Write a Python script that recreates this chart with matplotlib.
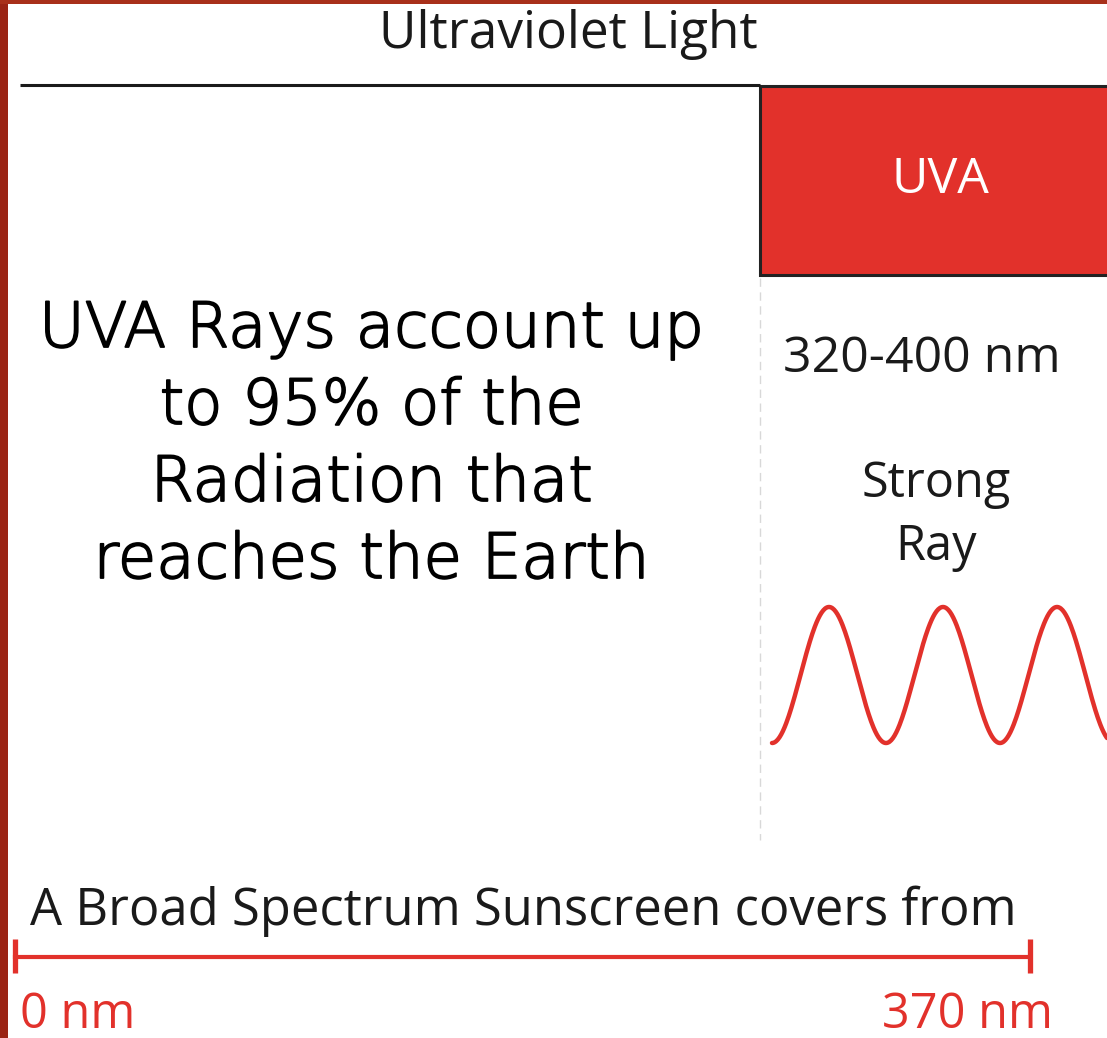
import numpy as np
import matplotlib.pyplot as plt
import matplotlib.patheffects as pe
from matplotlib.patches import Rectangle

# content
title = 'Ultraviolet Light'
band_name = 'UVA'
band_nm = (320, 400)
ray_label = ['Strong', 'Ray']
left_lines = ['UVA Rays account up', 'to 95% of the', 'Radiation that', 'reaches the Earth']
sunscreen_text = 'A Broad Spectrum Sunscreen covers from'
sunscreen_nm = (0, 370)
wave_peaks_x = [829, 943, 1057]   # (px)

RED = '#e2312b'
DARK = '#1a1a1a'
W, H = 1107, 1038

fig = plt.figure(figsize=(W / 100, H / 100), dpi=100)
ax = fig.add_axes([0, 0, 1, 1])
ax.set_xlim(0, W)
ax.set_ylim(H, 0)
ax.axis('off')

# frame strips
ax.add_patch(Rectangle((0, 0), 8, H, color='#9a2414', lw=0))
ax.add_patch(Rectangle((0, 0), W, 4, color='#a8301a', lw=0))

# title and rule
ax.text(568, 48, title, fontsize=37, family='Open Sans', color=DARK, ha='center', va='baseline')
ax.plot([20, 760], [85, 85], color=DARK, lw=2.2, solid_capstyle='butt')

# UVA box
ax.add_patch(Rectangle((760, 86), W - 760 + 5, 189, facecolor=RED, edgecolor='#222222', lw=2.2))
ax.text(940, 193, band_name, fontsize=36, family='Open Sans', color='white', ha='center', va='baseline')
ax.plot([760, 760], [278, 840], color='#d8d8d8', lw=1, ls=(0, (6, 4)))

# left statement
base = 347
for i, line in enumerate(left_lines):
    ax.text(372, base + i * 77, line, fontsize=45, family='DejaVu Sans', color='black',
            ha='center', va='baseline', fontweight='light',
            path_effects=[pe.withStroke(linewidth=1.3, foreground='black')])

# right labels
ax.text(922, 372, f'{band_nm[0]}-{band_nm[1]} nm', fontsize=36, family='Open Sans',
        color=DARK, ha='center', va='baseline')
ax.text(936, 497, ray_label[0], fontsize=35, family='Open Sans', color=DARK, ha='center', va='baseline')
ax.text(936, 560, ray_label[1], fontsize=35, family='Open Sans', color=DARK, ha='center', va='baseline')

# wave (peaks up)
period = wave_peaks_x[1] - wave_peaks_x[0]
wx = np.linspace(wave_peaks_x[0] - period / 2, W, 400)
wy = 675 - 68 * np.cos(2 * np.pi * (wx - wave_peaks_x[0]) / period)
ax.plot(wx, wy, color=RED, lw=3.2, solid_capstyle='round')

# sunscreen range
ax.text(30, 925, sunscreen_text, fontsize=36.5, family='Open Sans', color=DARK, ha='left', va='baseline')
x0, x1 = 15, 1030
ax.plot([x0, x1], [957, 957], color=RED, lw=3)
for xt in (x0, x1):
    ax.plot([xt, xt], [939, 973], color=RED, lw=3.8, solid_capstyle='butt')
ax.text(20, 1028, f'{sunscreen_nm[0]} nm', fontsize=35, family='Open Sans', color=RED, ha='left', va='baseline')
ax.text(1053, 1028, f'{sunscreen_nm[1]} nm', fontsize=35, family='Open Sans', color=RED, ha='right', va='baseline')

fig.savefig('out.png', dpi=100)
